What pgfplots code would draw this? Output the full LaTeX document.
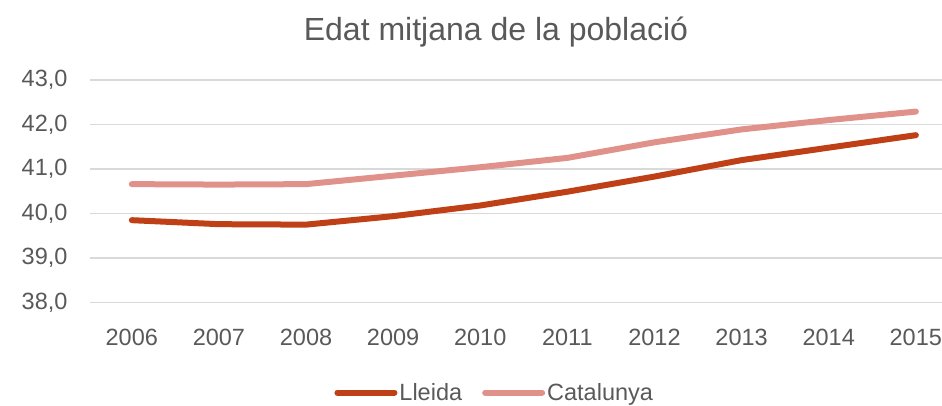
\documentclass[border=0pt]{standalone}
\usepackage{fontspec}
\setmainfont{Liberation Sans}
\usepackage{pgfplots}
\pgfplotsset{compat=1.18}
\definecolor{lleida}{HTML}{BF4016}
\definecolor{catal}{HTML}{E0928A}
\definecolor{txt}{HTML}{595959}
\definecolor{gridc}{HTML}{D9D9D9}
\begin{document}
\begin{tikzpicture}
\begin{axis}[
  at={(0pt,0pt)}, anchor=south west,
  scale only axis, width=852pt, height=222.5pt,
  xmin=2005.52, xmax=2015.3, ymin=38, ymax=43,
  xtick={2006,...,2015}, ytick={38,39,...,43},
  axis line style={draw=none}, major tick length=0pt,
  ymajorgrids, xmajorgrids=false, grid style={draw=gridc, line width=1.3pt},
  font=\fontsize{23.5pt}{28pt}\selectfont,
  tick label style={text=txt},
  /pgf/number format/assume math mode=true,
  xticklabel={\pgfmathprintnumber[fixed, 1000 sep={}]{\tick}},
  yticklabel={\pgfmathprintnumber[fixed, fixed zerofill, precision=1, use comma]{\tick}},
  xticklabel style={anchor=center, yshift=-34.5pt},
  yticklabel style={anchor=east, xshift=-19pt},
  xtick pos=bottom, ytick pos=left,
  legend columns=2,
  legend style={draw=none, fill=none, at={(rel axis cs:0.475,0)}, anchor=center, yshift=-90pt,
    font=\fontsize{23.5pt}{28pt}\selectfont, text=txt,
    /tikz/every even column/.append style={column sep=18pt},
    /tikz/every odd column/.append style={inner xsep=1pt},
    inner sep=0pt},
  legend image code/.code={\draw[#1, line cap=round] (0pt,0pt) -- (57pt,0pt);},
  clip=false,
]
\addplot[lleida, line width=6pt, line cap=round, line join=round] coordinates {
(2006,39.85) (2007,39.76) (2008,39.75) (2009,39.94) (2010,40.18)
(2011,40.49) (2012,40.83) (2013,41.20) (2014,41.48) (2015,41.76)};
\addlegendentry{Lleida}
\addplot[catal, line width=6pt, line cap=round, line join=round] coordinates {
(2006,40.66) (2007,40.65) (2008,40.66) (2009,40.85) (2010,41.04)
(2011,41.25) (2012,41.60) (2013,41.89) (2014,42.10) (2015,42.29)};
\addlegendentry{Catalunya}
\node[text=txt, font=\fontsize{32pt}{38pt}\selectfont, anchor=center] at (rel axis cs:0.4765,1) [yshift=48pt] {Edat mitjana de la població};
\end{axis}
\pgfresetboundingbox
\path[use as bounding box] (-90pt,-102.5pt) rectangle (852pt,302.5pt);
\end{tikzpicture}
\end{document}
